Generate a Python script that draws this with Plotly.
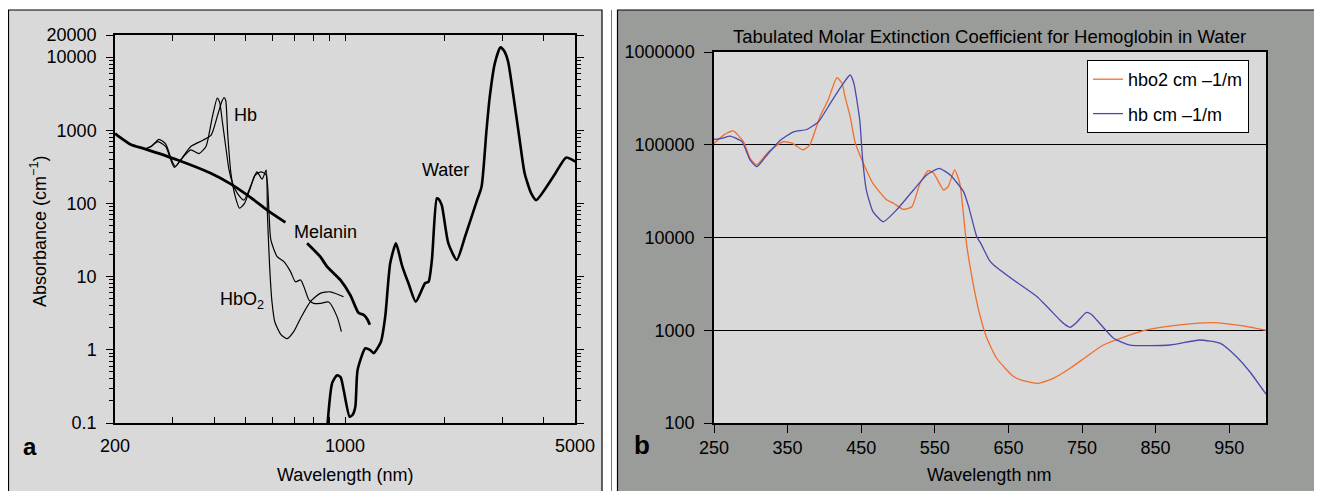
import plotly.graph_objects as go

# ---------------- Panel a data (wavelength nm, absorbance cm^-1) ----------------
hb_a_wl = [245, 258, 270, 285, 303, 320, 340, 370, 392, 410, 423, 429, 434, 440, 450, 465, 478, 495, 515, 532,
           555, 575, 582, 588, 595, 622, 652, 683, 707, 733, 750, 777, 804, 840, 892, 946, 975]
hb_a_val = [545, 610, 700, 600, 310, 420, 600, 730, 860, 1600, 2500, 2800, 2550, 900, 260, 120, 86, 100, 160, 240,
            270, 250, 170, 70, 32, 18.7, 16, 11.7, 8.5, 9.0, 7.3, 4.8, 4.3, 4.3, 4.5, 2.84, 1.77]

hbo2_a_wl = [245, 258, 272, 285, 298, 305, 322, 340, 360, 378, 395, 409, 416, 424, 434, 444, 455, 471, 493, 516,
             540, 560, 576, 581, 590, 600, 612, 640, 667, 700, 733, 785, 841, 903, 990]
hbo2_a_val = [545, 600, 750, 650, 380, 320, 430, 540, 480, 600, 1500, 2750, 2400, 1300, 600, 290, 190, 137, 111, 170,
              270, 215, 285, 73, 14, 4.5, 2.4, 1.6, 1.42, 1.8, 2.7, 4.55, 5.9, 6.2, 5.3]

melanin_wl = [200, 204, 223, 245, 310, 391, 449, 516, 580, 659, None, 767, 841, 882, 968, 1040, 1099, 1140, 1170, 1190]
melanin_val = [900, 840, 640, 560, 392, 258, 185, 121, 81, 55, None, 28.5, 18.7, 13.7, 9.0, 5.5, 3.2, 3.0, 2.6, 2.2]

water_wl = [880, 914, 946, 970, 991, 1033, 1055, 1075, 1092, 1153, 1190, 1222, 1286, 1325, 1372, 1428, 1455, 1489,
            1559, 1641, 1751, 1794, 1837, 1901, 1925, 1968, 2061, 2186, 2316, 2511, 2600, 2692, 2754, 2853, 2969,
            3050, 3131, 3241, 3395, 3515, 3681, 3811, 4326, 4696, 5012]
water_val = [0.07, 0.35, 0.45, 0.42, 0.28, 0.122, 0.13, 0.167, 0.53, 1.05, 1.0, 0.9, 1.29, 2.84, 15.2, 28.5, 22, 14.4,
             8.1, 4.55, 8.1, 8.5, 16.9, 117, 115, 95, 28.5, 16.9, 35, 106, 169, 1007, 2870, 8200, 13600,
             12000, 8640, 3200, 736, 258, 137, 111, 244, 422, 372]

a_ytickvals = [0.1, 1, 10, 100, 1000, 10000, 20000]
a_yticktext = ["0.1", "1", "10", "100", "1000", "10000", "20000"]
a_xtickvals = [200, 1000, 5000]
a_xticktext = ["200", "1000", "5000"]
a_xminor = [300, 400, 500, 600, 700, 800, 900, 2000, 3000, 4000]
a_yminor = [m * d for d in [0.1, 1, 10, 100, 1000] for m in range(2, 10)]

# ---------------- Panel b data (wavelength nm, molar extinction cm-1/M) ----------------
hbo2_b_wl = [250, 263, 276, 290, 299, 308, 324, 344, 356, 371, 380, 394, 405, 417, 424, 428, 435, 442, 451, 466,
             485, 494, 507, 519, 530, 541, 548, 562, 568, 577, 584, 593, 602, 610, 620, 634, 657, 670, 691, 711,
             734, 756, 779, 806, 838, 883, 928, 969, 1000]
hbo2_b_val = [103000, 127000, 141000, 108000, 71500, 60500, 84000, 108000, 104000, 87800, 99000, 201000, 303000,
              528000, 460000, 330000, 201000, 104000, 68600, 38400, 25300, 23400, 20100, 21500, 38400, 52500, 50000,
              32500, 35300, 53500, 38400, 8650, 3210, 1600, 852, 499, 317, 286, 268, 303, 389, 519, 693, 839, 1007,
              1140, 1206, 1113, 1000]

hb_b_wl = [250, 262, 272, 288, 299, 308, 324, 340, 358, 376, 392, 408, 424, 435, 440, 448, 452, 457, 466, 480, 498,
           521, 539, 556, 571, 589, 596, 607, 612, 624, 630, 657, 689, 720, 727, 734, 742, 756, 763, 770, 793, 815,
           870, 910, 938, 960, 978, 1000]
hb_b_val = [114000, 118000, 124000, 108000, 68500, 58000, 81000, 112000, 138000, 146000, 177000, 280000, 440000,
            565000, 460000, 185000, 68600, 32500, 19000, 14800, 19800, 32500, 47200, 55700, 47200, 31200, 21500,
            10200, 8800, 5700, 5060, 3480, 2300, 1290, 1150, 1076, 1200, 1560, 1480, 1290, 818, 693, 693, 785, 723,
            519, 357, 205]

b_ytickvals = [100, 1000, 10000, 100000, 1000000]
b_yticktext = ["100", "1000", "10000", "100000", "1000000"]
b_xtickvals = [250, 350, 450, 550, 650, 750, 850, 950]

# ---------------- Layout constants ----------------
# The page body adds an 8px margin, so the figure is drawn 8px smaller and
# screen pixel positions are converted with that offset.
OFF = 8
WIN_W, WIN_H = 1322, 491
W, H = WIN_W - OFF, WIN_H - OFF
FONT = "Liberation Sans, Arial, Helvetica, sans-serif"
LIGHT = "#d9d9d9"
DARK = "#9a9c9a"
ORANGE = "#f06e2c"
BLUE = "#4a4aae"


def px(x):
    return (x - OFF) / W


def py(y):
    return 1 - (y - OFF) / H


fig = go.Figure()

# Panel a traces
fig.add_trace(go.Scatter(x=hb_a_wl, y=hb_a_val, mode="lines", line=dict(color="black", width=1.2, shape="spline", smoothing=0.6),
                         xaxis="x", yaxis="y", showlegend=False, name="Hb"))
fig.add_trace(go.Scatter(x=hbo2_a_wl, y=hbo2_a_val, mode="lines", line=dict(color="black", width=1.2, shape="spline", smoothing=0.6),
                         xaxis="x", yaxis="y", showlegend=False, name="HbO2"))
fig.add_trace(go.Scatter(x=melanin_wl, y=melanin_val, mode="lines", line=dict(color="black", width=2.8, shape="spline", smoothing=0.6),
                         xaxis="x", yaxis="y", showlegend=False, name="Melanin", connectgaps=False))
fig.add_trace(go.Scatter(x=water_wl, y=water_val, mode="lines", line=dict(color="black", width=2.6, shape="spline", smoothing=0.6),
                         xaxis="x", yaxis="y", showlegend=False, name="Water"))

# Panel b traces
fig.add_trace(go.Scatter(x=hbo2_b_wl, y=hbo2_b_val, mode="lines", line=dict(color=ORANGE, width=1.3, shape="spline", smoothing=0.5),
                         xaxis="x2", yaxis="y2", name="hbo2 cm \u20131/m", legendgroup="g1"))
fig.add_trace(go.Scatter(x=hb_b_wl, y=hb_b_val, mode="lines", line=dict(color=BLUE, width=1.3, shape="spline", smoothing=0.5),
                         xaxis="x2", yaxis="y2", name="hb cm \u20131/m", legendgroup="g2"))

tickfont = dict(family=FONT, size=18, color="black")


def label(text, x, y, size=18, **kw):
    return dict(text=text, x=px(x), y=py(y), xref="paper", yref="paper", showarrow=False,
                xanchor="center", yanchor="middle", font=dict(family=FONT, size=size, color="black"), **kw)


fig.update_layout(
    template="none",
    width=W, height=H,
    autosize=False,
    margin=dict(l=0, r=0, t=0, b=0, pad=0, autoexpand=False),
    paper_bgcolor="white",
    plot_bgcolor=LIGHT,
    font=dict(family=FONT, size=18, color="black"),
    xaxis=dict(
        domain=[px(115), px(575)], anchor="y", type="log", automargin=False,
        range=[2.30103, 3.69897],
        tickmode="array", tickvals=a_xtickvals, ticktext=a_xticktext,
        ticks="inside", ticklen=6, tickwidth=1.2, tickcolor="black",
        minor=dict(tickmode="array", tickvals=a_xminor, ticks="inside", ticklen=6, tickwidth=1.2, tickcolor="black", showgrid=False),
        showline=True, linecolor="black", linewidth=1.5, mirror="ticks",
        showgrid=False, zeroline=False, tickfont=tickfont, ticklabelstandoff=6,
    ),
    yaxis=dict(
        domain=[py(423), py(35)], anchor="x", type="log", automargin=False,
        range=[-1, 4.30103],
        tickmode="array", tickvals=a_ytickvals, ticktext=a_yticktext,
        ticks="outside", ticklen=7, tickwidth=1.2, tickcolor="black",
        minor=dict(tickmode="array", tickvals=a_yminor, ticks="outside", ticklen=4, tickwidth=1, tickcolor="black", showgrid=False),
        showline=True, linecolor="black", linewidth=1.5, mirror="ticks",
        showgrid=False, zeroline=False, tickfont=tickfont, ticklabelstandoff=6,
    ),
    xaxis2=dict(
        domain=[px(714), px(1266)], anchor="y2", automargin=False,
        range=[250, 1000],
        tickmode="array", tickvals=b_xtickvals,
        ticks="outside", ticklen=8, tickwidth=1.2, tickcolor="black",
        showline=True, linecolor="black", linewidth=1.5, mirror=True,
        showgrid=False, zeroline=False, tickfont=tickfont, ticklabelstandoff=0,
    ),
    yaxis2=dict(
        domain=[py(423), py(52)], anchor="x2", type="log", automargin=False,
        range=[2, 6],
        tickmode="array", tickvals=b_ytickvals, ticktext=b_yticktext,
        ticks="outside", ticklen=8, tickwidth=1.2, tickcolor="black",
        showline=True, linecolor="black", linewidth=1.5, mirror=True,
        showgrid=True, gridcolor="black", gridwidth=1.3, zeroline=False, tickfont=tickfont, ticklabelstandoff=6,
    ),
    legend=dict(
        x=px(1087), y=py(60), xanchor="left", yanchor="top",
        bgcolor="white", bordercolor="black", borderwidth=1,
        font=dict(family=FONT, size=18, color="black"), tracegroupgap=8,
    ),
    shapes=[
        dict(type="rect", xref="paper", yref="paper", x0=px(8.5), x1=px(602), y0=py(500), y1=py(10),
             fillcolor=LIGHT, line=dict(color="black", width=1.2), layer="below"),
        dict(type="line", xref="paper", yref="paper", x0=px(611.5), x1=px(611.5), y0=py(500), y1=py(10),
             line=dict(color="#777777", width=1), layer="below"),
        dict(type="rect", xref="paper", yref="paper", x0=px(617.5), x1=px(1335), y0=py(500), y1=py(10),
             fillcolor=DARK, line=dict(color="black", width=1.2), layer="below"),
        dict(type="rect", xref="x2 domain", yref="y2 domain", x0=0, x1=1, y0=0, y1=1,
             fillcolor=LIGHT, line=dict(width=0), layer="below"),
    ],
    annotations=[
        label("Hb", 245, 115),
        label("HbO<sub>2</sub>", 242, 300),
        label("Melanin", 325, 232),
        label("Water", 445, 170),
        label("Absorbance (cm<sup>\u22121</sup>)", 38, 232, textangle=-90),
        label("Wavelength (nm)", 345, 475),
        label("<b>a</b>", 30, 446, size=24),
        label("Tabulated Molar Extinction Coefficient for Hemoglobin in Water", 989, 37, size=18.5),
        label("Wavelength nm", 989, 475),
        label("<b>b</b>", 642, 445, size=26),
    ],
)

fig.write_html("out.html")
